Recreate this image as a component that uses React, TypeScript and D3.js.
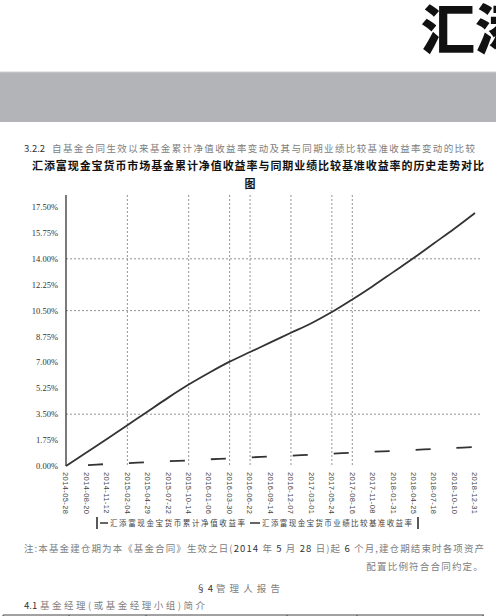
import { useMemo } from 'react';
import * as d3 from 'd3';

const CN = '"Noto Sans CJK SC", "Noto Sans", sans-serif';

// x categories (dates shown on the axis)
const dates = [
  '2014-05-28', '2014-08-20', '2014-11-12', '2015-02-04', '2015-04-29',
  '2015-07-22', '2015-10-14', '2016-01-06', '2016-03-30', '2016-06-22',
  '2016-09-14', '2016-12-07', '2017-03-01', '2017-05-24', '2017-08-16',
  '2017-11-08', '2018-01-31', '2018-04-25', '2018-07-18', '2018-10-10',
  '2018-12-31',
];

// cumulative NAV return of the fund, %
const fundReturn = [
  0, 0.91, 1.82, 2.75, 3.69, 4.62, 5.5, 6.3, 7.05, 7.7, 8.35,
  9.0, 9.65, 10.4, 11.25, 12.15, 13.1, 14.05, 15.05, 16.05, 17.1,
];

// benchmark return, %
const benchReturn = [
  0, 0.06, 0.13, 0.19, 0.26, 0.32, 0.38, 0.45, 0.51, 0.58, 0.64,
  0.7, 0.77, 0.83, 0.9, 0.96, 1.02, 1.09, 1.15, 1.22, 1.28,
];

const yTicks = [0, 1.75, 3.5, 5.25, 7, 8.75, 10.5, 12.25, 14, 15.75, 17.5];
const yGrid = [3.5, 10.5, 14];
const xGrid = ['2015-02-04', '2015-10-14', '2016-03-30', '2016-06-22', '2016-12-07', '2017-05-24', '2017-08-16'];

const legendFund = '汇添富现金宝货币累计净值收益率';
const legendBench = '汇添富现金宝货币业绩比较基准收益率';

const margin = { top: 195, left: 66, right: 21, bottom: 150 };

export default function App() {
  const width = 496;
  const height = 616;

  const x = useMemo(
    () => d3.scalePoint<string>().domain(dates).range([margin.left, width - margin.right]),
    []
  );
  const y = useMemo(() => d3.scaleLinear().domain([0, 17.5]).range([466, 207]), []);

  const line = d3
    .line<number>()
    .x((_, i) => x(dates[i]) as number)
    .y((d) => y(d))
    .curve(d3.curveCatmullRom.alpha(0.5));

  return (
    <svg width={width} height={height} style={{ position: 'absolute', left: 0, top: 0, background: '#fff' }}>
      {/* page header */}
      <text x={421} y={50} fontFamily={CN} fontWeight={900} fontSize={54} fill="#111">汇添</text>
      <rect x={0} y={72} width={width} height={50} fill="#b3b4b7" />
      <line x1={0} x2={width} y1={72} y2={72} stroke="#d0d0d2" />

      <text x={24} y={152} fontFamily={CN} fontSize={9.5} fill="#333">3.2.2</text>
      <text x={52} y={152} fontFamily={CN} fontSize={9.5} fill="#808080" textLength={423} lengthAdjust="spacing">
        自基金合同生效以来基金累计净值收益率变动及其与同期业绩比较基准收益率变动的比较
      </text>

      {/* chart title */}
      <text x={32} y={170} fontFamily={CN} fontWeight={700} fontSize={11} fill="#111" textLength={452} lengthAdjust="spacing">
        汇添富现金宝货币市场基金累计净值收益率与同期业绩比较基准收益率的历史走势对比
      </text>
      <text x={250} y={188} fontFamily={CN} fontWeight={700} fontSize={11} fill="#111" textAnchor="middle">图</text>

      {/* grid */}
      {yGrid.map((v) => (
        <line key={v} x1={margin.left} x2={480} y1={y(v)} y2={y(v)} stroke="#888" strokeWidth={0.9} strokeDasharray="2,2" />
      ))}
      {xGrid.map((d) => (
        <line key={d} x1={x(d)} x2={x(d)} y1={margin.top} y2={466} stroke="#888" strokeWidth={0.9} strokeDasharray="2,2" />
      ))}

      {/* y axis */}
      <line x1={margin.left} x2={margin.left} y1={margin.top} y2={466} stroke="#333" strokeWidth={1.3} />
      {yTicks.map((t) => (
        <text key={t} x={58} y={y(t) + 3} fontFamily="Liberation Serif, serif" fontSize={8.5} fill="#333" textAnchor="end">
          {t.toFixed(2)}%
        </text>
      ))}

      {/* x labels */}
      {dates.map((d) => (
        <text
          key={d}
          transform={`translate(${(x(d) as number) - 2.7},472) rotate(90)`}
          fontFamily="Liberation Sans, sans-serif"
          fontSize={7.5}
          letterSpacing={0.4}
          fill="#444"
        >
          {d}
        </text>
      ))}

      {/* series */}
      <path
        d={line(benchReturn) ?? ''}
        fill="none"
        stroke="#333"
        strokeWidth={1.8}
        strokeDasharray="15,26"
        strokeDashoffset={-22}
      />
      <path d={line(fundReturn) ?? ''} fill="none" stroke="#333" strokeWidth={1.8} />

      {/* legend */}
      <g fontFamily={CN} fontSize={7.5} fill="#444">
        <line x1={97} x2={97} y1={517} y2={529} stroke="#222" strokeWidth={1.5} />
        <line x1={100} x2={108} y1={523} y2={523} stroke="#333" strokeWidth={1.5} />
        <text x={110} y={526} textLength={135} lengthAdjust="spacing">{legendFund}</text>
        <line x1={250} x2={260} y1={523} y2={523} stroke="#333" strokeWidth={1.5} />
        <text x={262} y={526} textLength={150} lengthAdjust="spacing">{legendBench}</text>
        <line x1={418} x2={418} y1={517} y2={529} stroke="#222" strokeWidth={1.5} />
      </g>

      {/* note and following text */}
      <text x={24} y={552} fontFamily={CN} fontSize={9.5} fill="#808080" textLength={460} lengthAdjust="spacing">
        注:本基金建仓期为本《基金合同》生效之日(<tspan fill="#333">2014</tspan> 年 <tspan fill="#333">5</tspan> 月 <tspan fill="#333">28</tspan> 日)起 <tspan fill="#333">6</tspan> 个月,建仓期结束时各项资产
      </text>
      <text x={484} y={570} fontFamily={CN} fontSize={9.5} fill="#808080" textAnchor="end" letterSpacing={1.2}>
        配置比例符合合同约定。
      </text>
      <text x={196} y={592} fontFamily={CN} fontSize={9.5} fill="#333">§ 4</text>
      <text x={216} y={592} fontFamily={CN} fontSize={9.5} fill="#808080" textLength={64} lengthAdjust="spacing">
        管理人报告
      </text>
      <text x={24} y={609} fontFamily={CN} fontSize={9.5} fill="#333">4.1</text>
      <text x={40} y={609} fontFamily={CN} fontSize={9.5} fill="#808080" textLength={165} lengthAdjust="spacing">
        基金经理(或基金经理小组)简介
      </text>

      {/* table top */}
      <line x1={3} x2={484} y1={615} y2={615} stroke="#444" />
      {[3, 69, 146, 287, 357, 483].map((v) => (
        <line key={v} x1={v} x2={v} y1={615} y2={616} stroke="#444" />
      ))}
    </svg>
  );
}
